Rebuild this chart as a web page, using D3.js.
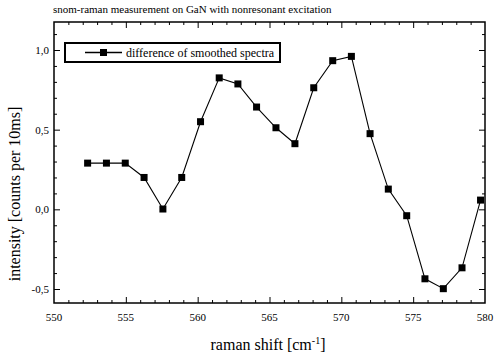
<!DOCTYPE html>
<html><head><meta charset="utf-8">
<script src="https://cdn.jsdelivr.net/npm/d3@7"></script>
<style>body{margin:0;background:#fff;} svg{display:block;}</style>
</head><body>
<svg id="c" width="500" height="360"></svg>
<script>
const ramanShift = [552.34, 553.65, 554.96, 556.27, 557.58, 558.89, 560.2, 561.5, 562.8, 564.1, 565.45, 566.77, 568.08, 569.4, 570.7, 572.0, 573.27, 574.55, 575.82, 577.1, 578.4, 579.69];
const intensity = [0.29, 0.29, 0.29, 0.20, 0.002, 0.20, 0.55, 0.825, 0.787, 0.642, 0.512, 0.412, 0.763, 0.933, 0.96, 0.475, 0.127, -0.04, -0.436, -0.498, -0.367, 0.058];
const xMajorTicks = [550, 555, 560, 565, 570, 575, 580];
const yMajorTicks = [-0.5, 0.0, 0.5, 1.0];
const yTickLabels = ["-0,5", "0,0", "0,5", "1,0"];
const titleText = "snom-raman measurement on GaN with nonresonant excitation";
const legendText = "difference of smoothed spectra";

const svg = d3.select("#c");
const L = 54, R = 485, T = 22, B = 303;
const x = d3.scaleLinear().domain([550, 580]).range([L, R]);
const y = d3.scaleLinear().domain([-0.5, 1.0]).range([289, 50]);
const serif = "'Liberation Serif','DejaVu Serif',serif";

// frame
svg.append("rect").attr("x", L).attr("y", T).attr("width", R - L).attr("height", B - T)
  .attr("fill", "none").attr("stroke", "#000").attr("stroke-width", 1.5);

// axes with inward ticks
const xMinor = d3.range(551, 580, 1).filter(v => v % 5 !== 0);
const yMinor = d3.range(-5, 12, 1).map(v => v / 10).filter(v => Math.abs(v * 10 % 5) > 0.01 && y(v) > T + 2 && y(v) < B - 2);

function axisGroup(axisFn, scale, tx, ty, vals, size) {
  const g = svg.append("g").attr("transform", `translate(${tx},${ty})`)
    .call(axisFn(scale).tickValues(vals).tickSize(size).tickFormat(""));
  g.select(".domain").remove();
  g.selectAll("line").attr("stroke", "#000").attr("stroke-width", 1);
  return g;
}
// bottom (ticks inward = up)
axisGroup(d3.axisTop, x, 0, B, xMajorTicks.slice(1, -1), 6);
axisGroup(d3.axisTop, x, 0, B, xMinor, 3);
// top (inward = down)
axisGroup(d3.axisBottom, x, 0, T, xMajorTicks.slice(1, -1), 6);
axisGroup(d3.axisBottom, x, 0, T, xMinor, 3);
// left (inward = right)
axisGroup(d3.axisRight, y, L, 0, yMajorTicks, 6);
axisGroup(d3.axisRight, y, L, 0, yMinor, 3);
// right (inward = left)
axisGroup(d3.axisLeft, y, R, 0, yMajorTicks, 6);
axisGroup(d3.axisLeft, y, R, 0, yMinor, 3);

// tick labels
svg.append("g").selectAll("text").data(xMajorTicks).join("text")
  .attr("x", d => x(d)).attr("y", 321).attr("text-anchor", "middle")
  .attr("font-family", serif).attr("font-size", 11).text(d => d);
svg.append("g").selectAll("text").data(yMajorTicks).join("text")
  .attr("x", L - 5).attr("y", d => y(d) + 4).attr("text-anchor", "end")
  .attr("font-family", serif).attr("font-size", 11).text((d, i) => yTickLabels[i]);

// title
svg.append("text").attr("x", 53).attr("y", 13).attr("font-family", serif)
  .attr("font-size", 11).text(titleText);

// axis titles
const xl = svg.append("text").attr("x", 268).attr("y", 350).attr("text-anchor", "middle")
  .attr("font-family", serif).attr("font-size", 16);
xl.append("tspan").text("raman shift [cm");
xl.append("tspan").attr("dy", -6).attr("font-size", 10).text("-1");
xl.append("tspan").attr("dy", 6).text("]");
svg.append("text").attr("transform", "translate(20,194) rotate(-90)").attr("text-anchor", "middle")
  .attr("font-family", serif).attr("font-size", 16).text("intensity [counts per 10ms]");

// data line + markers
const line = d3.line().x((d, i) => x(ramanShift[i])).y(d => y(d));
svg.append("path").datum(intensity).attr("d", line).attr("fill", "none")
  .attr("stroke", "#000").attr("stroke-width", 1.1);
const ms = 7;
svg.append("g").selectAll("rect").data(intensity).join("rect")
  .attr("x", (d, i) => x(ramanShift[i]) - ms / 2).attr("y", d => y(d) - ms / 2)
  .attr("width", ms).attr("height", ms).attr("fill", "#000");

// legend
svg.append("rect").attr("x", 65).attr("y", 43).attr("width", 215).attr("height", 19)
  .attr("fill", "#fff").attr("stroke", "#000").attr("stroke-width", 2);
svg.append("line").attr("x1", 85).attr("x2", 122).attr("y1", 52.5).attr("y2", 52.5)
  .attr("stroke", "#000").attr("stroke-width", 1.5);
svg.append("rect").attr("x", 103.5 - ms / 2).attr("y", 52.5 - ms / 2).attr("width", ms).attr("height", ms).attr("fill", "#000");
svg.append("text").attr("x", 126).attr("y", 56.5).attr("font-family", serif)
  .attr("font-size", 12).text(legendText);
</script>
</body></html>
